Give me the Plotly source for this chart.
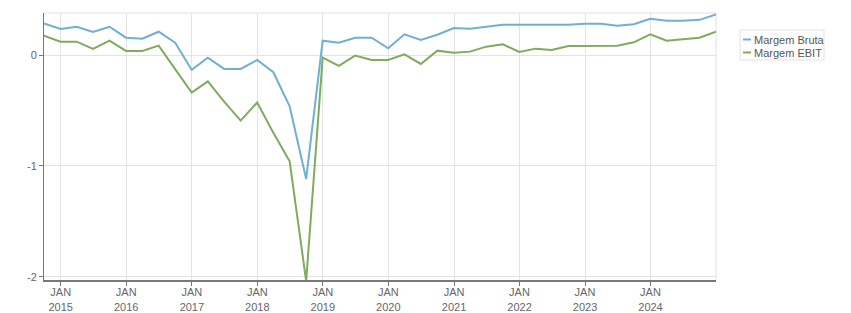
import plotly.graph_objects as go

quarters = [
    "2014-09-30", "2014-12-31",
    "2015-03-31", "2015-06-30", "2015-09-30", "2015-12-31",
    "2016-03-31", "2016-06-30", "2016-09-30", "2016-12-31",
    "2017-03-31", "2017-06-30", "2017-09-30", "2017-12-31",
    "2018-03-31", "2018-06-30", "2018-09-30", "2018-12-31",
    "2019-03-31", "2019-06-30", "2019-09-30", "2019-12-31",
    "2020-03-31", "2020-06-30", "2020-09-30", "2020-12-31",
    "2021-03-31", "2021-06-30", "2021-09-30", "2021-12-31",
    "2022-03-31", "2022-06-30", "2022-09-30", "2022-12-31",
    "2023-03-31", "2023-06-30", "2023-09-30", "2023-12-31",
    "2024-03-31", "2024-06-30", "2024-09-30", "2024-12-31",
]

margem_bruta = [
    0.288, 0.237, 0.258, 0.210, 0.258, 0.159, 0.150, 0.213, 0.114, -0.132,
    -0.022, -0.123, -0.123, -0.042, -0.153, -0.460, -1.117, 0.132, 0.114, 0.159,
    0.159, 0.063, 0.189, 0.138, 0.186, 0.246, 0.240, 0.258, 0.276, 0.276,
    0.276, 0.276, 0.276, 0.285, 0.285, 0.267, 0.280, 0.330, 0.312, 0.312,
    0.320, 0.370,
]

margem_ebit = [
    0.177, 0.123, 0.123, 0.057, 0.132, 0.039, 0.039, 0.087, -0.125, -0.337,
    -0.236, -0.418, -0.590, -0.427, -0.700, -0.958, -2.040, -0.021, -0.096, -0.003,
    -0.042, -0.042, 0.009, -0.078, 0.042, 0.024, 0.033, 0.078, 0.099, 0.030,
    0.060, 0.048, 0.084, 0.087, 0.087, 0.087, 0.117, 0.189, 0.132, 0.147,
    0.159, 0.213,
]

x_tick_vals = ["2015-01-01", "2016-01-01", "2017-01-01", "2018-01-01", "2019-01-01",
               "2020-01-01", "2021-01-01", "2022-01-01", "2023-01-01", "2024-01-01"]
x_tick_text = ["JAN<br>2015", "JAN<br>2016", "JAN<br>2017", "JAN<br>2018", "JAN<br>2019",
               "JAN<br>2020", "JAN<br>2021", "JAN<br>2022", "JAN<br>2023", "JAN<br>2024"]
y_tick_vals = [-2, -1, 0]
y_tick_text = ["-2", "-1", "0"]

series_names = ["Margem Bruta", "Margem EBIT"]
colors = ["#70afd4", "#80ab5f"]

FONT = "Liberation Sans, Arial, sans-serif"

fig = go.Figure()
for name, vals, col in zip(series_names, [margem_bruta, margem_ebit], colors):
    fig.add_trace(go.Scatter(x=quarters, y=vals, mode="lines", name=name,
                             line=dict(color=col, width=2), showlegend=False))

# legend drawn as text + short line swatches
for i, (name, col) in enumerate(zip(series_names, colors)):
    yc = 39.5 + 13 * i
    fig.add_shape(type="line", xref="paper", yref="paper",
                  x0=(743 - 44) / 672, x1=(751 - 44) / 672,
                  y0=(280 - yc) / 267, y1=(280 - yc) / 267,
                  line=dict(color=col, width=2))
    fig.add_annotation(text=name, xref="paper", yref="paper",
                       x=(752 - 44) / 672, y=(280 - yc) / 267,
                       xanchor="left", yanchor="middle", showarrow=False,
                       font=dict(family=FONT, size=11, color="#555555"))
fig.add_shape(type="rect", xref="paper", yref="paper",
              x0=(740 - 44) / 672, x1=(824 - 44) / 672,
              y0=(280 - 30) / 267, y1=(280 - 60) / 267,
              line=dict(color="#e2e2e2", width=1))

# light frame at top and right of plot area
fig.add_shape(type="line", xref="paper", yref="paper", x0=0, x1=1, y0=1, y1=1,
              line=dict(color="#e0e0e0", width=1), layer="below")
fig.add_shape(type="line", xref="paper", yref="paper", x0=1, x1=1, y0=0, y1=1,
              line=dict(color="#e0e0e0", width=1), layer="below")

fig.update_layout(
    width=851, height=313,
    margin=dict(l=44, r=135, t=13, b=33, autoexpand=False),
    paper_bgcolor="white", plot_bgcolor="white",
    font=dict(family=FONT, size=11, color="#666666"),
    xaxis=dict(
        type="date", range=["2014-09-30", "2024-12-31"],
        tickmode="array", tickvals=x_tick_vals, ticktext=x_tick_text,
        showgrid=True, gridcolor="#e3e3e3", gridwidth=1,
        showline=True, linecolor="#777777", linewidth=2,
        ticks="outside", ticklen=4, tickcolor="#777777", tickwidth=1,
        ticklabelstandoff=-3,
        tickfont=dict(family=FONT, size=11, color="#666666"),
        zeroline=False, automargin=False,
    ),
    yaxis=dict(
        range=[-2.03, 0.382],
        tickmode="array", tickvals=y_tick_vals, ticktext=y_tick_text,
        showgrid=True, gridcolor="#e3e3e3", gridwidth=1,
        showline=True, linecolor="#777777", linewidth=1,
        ticks="outside", ticklen=4, tickcolor="#777777", tickwidth=1,
        tickfont=dict(family=FONT, size=11, color="#666666"),
        zeroline=False, automargin=False,
    ),
)

fig.write_html("out.html")
